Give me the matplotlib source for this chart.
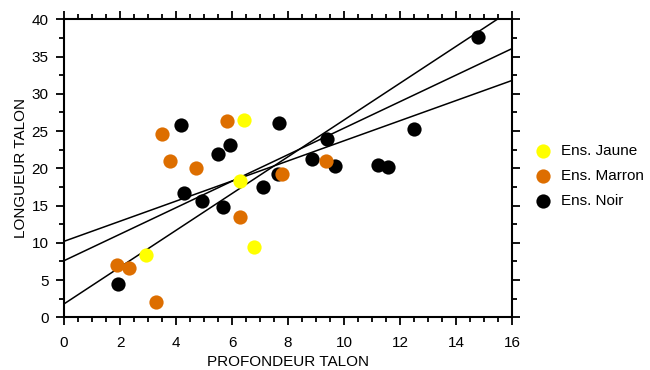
import numpy as np
import matplotlib
matplotlib.use("Agg")
import matplotlib.pyplot as plt
from matplotlib.ticker import MultipleLocator

plt.rcParams["font.family"] = ["Liberation Sans", "DejaVu Sans"]

# Ens. Noir
noir_x = [1.94, 4.16, 4.27, 4.94, 5.49, 5.66, 5.93, 7.10, 7.66, 7.65, 8.87, 9.39, 9.67, 11.22, 11.55, 12.50, 14.78]
noir_y = [4.5, 25.8, 16.7, 15.6, 21.9, 14.8, 23.1, 17.5, 26.1, 19.3, 21.3, 24.0, 20.3, 20.5, 20.2, 25.3, 37.6]
# Ens. Marron
marron_x = [1.88, 2.33, 3.27, 3.50, 3.77, 4.71, 5.83, 6.27, 7.78, 9.34]
marron_y = [7.0, 6.6, 2.0, 24.6, 21.0, 20.0, 26.3, 13.5, 19.2, 21.0]
# Ens. Jaune
jaune_x = [2.94, 6.27, 6.43, 6.77]
jaune_y = [8.3, 18.3, 26.5, 9.5]

# droites d'ajustement (ordonnee a l'origine, pente)
fit_intercepts = [1.8, 7.6, 10.2]
fit_slopes = [2.47, 1.78, 1.35]

fig = plt.figure(figsize=(6.5, 3.7), dpi=100)
ax = fig.add_axes([0.0985, 0.1424, 0.6895, 0.8054])

xs = np.array([0, 16])
for b, m in zip(fit_intercepts, fit_slopes):
    ax.plot(xs, b + m * xs, color="black", lw=1.1, zorder=2)

ms = 105
ax.scatter(noir_x, noir_y, s=ms, color="black", lw=0, zorder=3, label="Ens. Noir")
ax.scatter(marron_x, marron_y, s=ms, color="#DD6E00", lw=0, zorder=4, label="Ens. Marron")
ax.scatter(jaune_x, jaune_y, s=ms, color="#FFFF00", lw=0, zorder=5, label="Ens. Jaune")

ax.set_xlim(0, 16)
ax.set_ylim(0, 40)
ax.xaxis.set_major_locator(MultipleLocator(2))
ax.xaxis.set_minor_locator(MultipleLocator(0.5))
ax.yaxis.set_major_locator(MultipleLocator(5))
ax.yaxis.set_minor_locator(MultipleLocator(2.5))
ax.tick_params(which="both", direction="out", top=True, right=True, width=1.3, labelsize=11)
ax.tick_params(which="major", length=6)
ax.tick_params(which="minor", length=3.5)
ax.tick_params(axis="x", which="major", pad=7.5)
ax.tick_params(axis="y", which="major", pad=5)
for sp in ax.spines.values():
    sp.set_linewidth(1.5)

ax.set_xlabel("PROFONDEUR TALON", fontsize=11, labelpad=3.5)
ax.set_ylabel("LONGUEUR TALON", fontsize=11, labelpad=3)

h, l = ax.get_legend_handles_labels()
order = [2, 1, 0]
ax.legend([h[i] for i in order], [l[i] for i in order], loc="upper left",
          bbox_to_anchor=(0.806, 0.632), bbox_transform=fig.transFigure,
          frameon=False, fontsize=11, labelspacing=0.74, handletextpad=0.45,
          borderpad=0, handlelength=1.5)

fig.savefig("out.png", dpi=100)
